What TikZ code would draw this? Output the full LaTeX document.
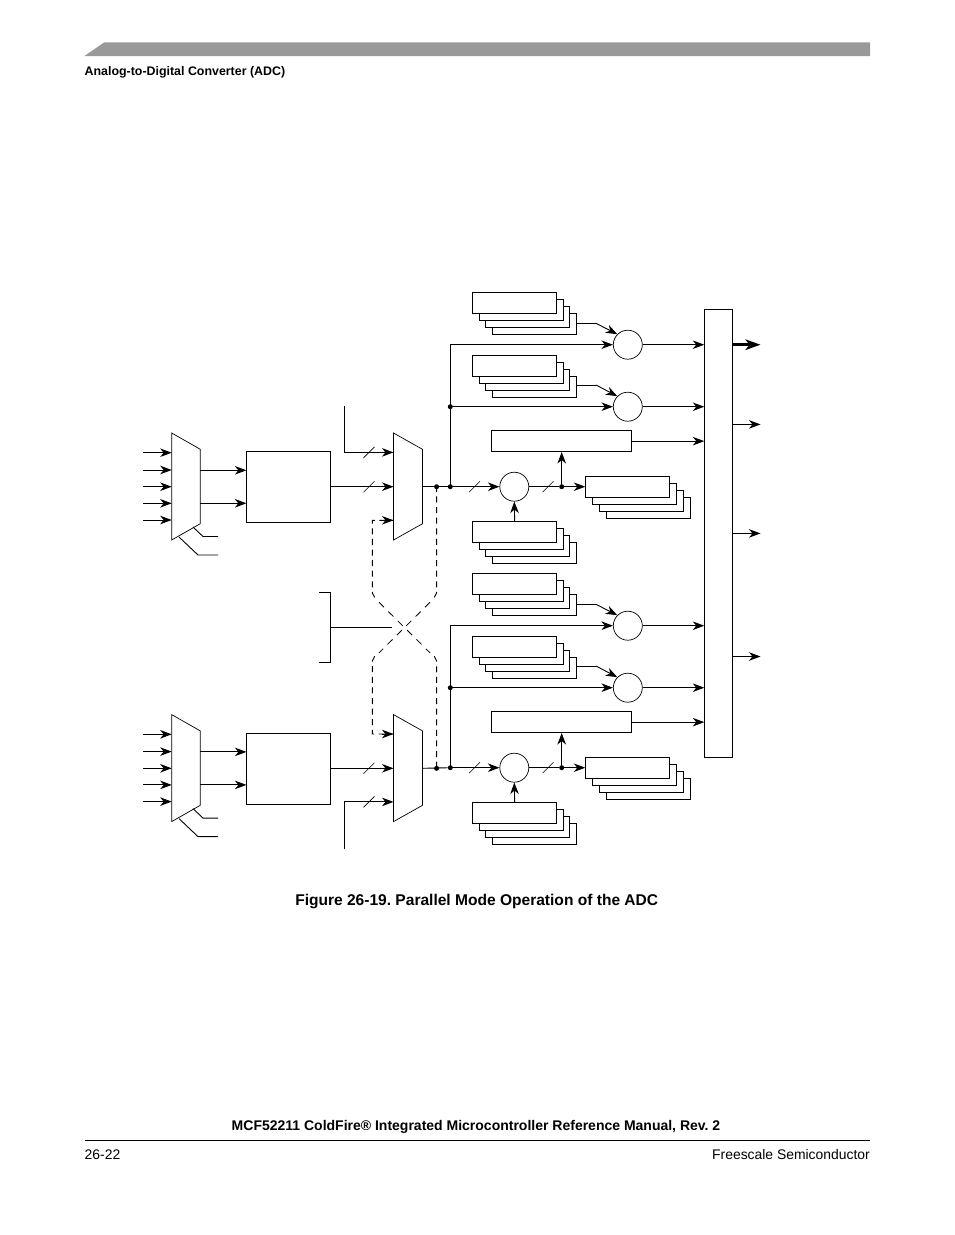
\documentclass[tikz,border=0pt]{standalone}
\usepackage{fontspec}
\setmainfont{Liberation Sans}
\usetikzlibrary{arrows.meta}
\tikzset{
  wire/.style={line width=0.9pt,draw=black},
  arrowwire/.style={wire,-{Stealth[length=11.5pt,width=8.5pt,inset=3.5pt]}},
  thickarrow/.style={line width=2.8pt,draw=black,-{Stealth[length=15pt,width=10.5pt,inset=4pt]}},
  dashwire/.style={wire,dash pattern=on 6pt off 4.6pt},
  crosswire/.style={wire,line width=0.8pt,dash pattern=on 7pt off 6.2pt},
  outline/.style={draw=black,line width=0.9pt,fill=white,rectangle,inner sep=0pt,anchor=north west},
  reg/.style={outline,minimum width=84pt,minimum height=20.8pt},
  adcbox/.style={outline,minimum width=83.7pt,minimum height=71pt},
  wide/.style={outline,minimum width=140pt,minimum height=20.8pt},
  tall/.style={outline,minimum width=27.8pt,minimum height=448pt},
  cmp/.style={draw=black,line width=0.7pt,fill=white,circle,inner sep=0pt,minimum size=29pt},
  mux/.style={draw=black,line width=0.7pt,fill=white},
  junction/.style={fill=black,circle,inner sep=0pt,minimum size=5pt},
  ttl/.style={inner sep=0pt,font=\frenchspacing\bfseries\fontsize{15.55}{18}\selectfont},
  small/.style={inner sep=0pt,font=\bfseries\fontsize{12.4}{14}\selectfont},
  foot/.style={inner sep=0pt,font=\fontsize{13.9}{16}\selectfont},
  footb/.style={inner sep=0pt,font=\frenchspacing\bfseries\fontsize{14}{16}\selectfont},
}
% stack of four registers: #1 prefix, #2 position of the front box's top-left corner
\newcommand{\regstack}[2]{%
  \node[reg,shift={(20.2pt,-20.4pt)}] (#1d) at #2 {};
  \node[reg,shift={(13.2pt,-14pt)}] (#1c) at #2 {};
  \node[reg,shift={(6.4pt,-7pt)}] (#1b) at #2 {};
  \node[reg] (#1a) at #2 {};
}
\newcommand{\slashmark}[1]{\draw[wire,line width=0.6pt] ([shift={(-5.5,5.5)}]#1) -- ([shift={(5.5,-5.5)}]#1);}
% left half: input mux, ADC box, output mux
\newcommand{\muxbank}[2]{%
\begin{scope}[shift={(0,#2)}]
  \path[mux] (171.7,433) -- (200.3,449.3) -- (200.3,523.7) -- (171.7,540) -- cycle;
  \path[mux] (393.5,433) -- (422.5,449.3) -- (422.5,523.7) -- (393.5,540) -- cycle;
  \node[adcbox] (#1box) at (246.4,451.2) {};
  \foreach \n/\y in {1/452.7,2/470,3/486.7,4/503.3,5/520}{
    \coordinate (#1in\n) at (143,\y);
    \coordinate (#1pin\n) at (171.7,\y);
    \draw[arrowwire] (#1in\n) -- (#1pin\n);
  }
  \coordinate (#1outa) at (200.3,470.3);
  \coordinate (#1outb) at (200.3,503.3);
  \draw[arrowwire] (#1outa) -- (#1outa -| #1box.west);
  \draw[arrowwire] (#1outb) -- (#1outb -| #1box.west);
  \coordinate (#1sela) at (193,527);
  \coordinate (#1selaa) at (203,536.5);
  \coordinate (#1selab) at (218,536.5);
  \coordinate (#1selb) at (179,537);
  \coordinate (#1selba) at (198,555);
  \coordinate (#1selbb) at (218,555);
  \draw[wire] (#1sela) -- (#1selaa) -- (#1selab);
  \draw[wire] (#1selb) -- (#1selba) -- (#1selbb);
  \coordinate (#1mid) at (393.5,486.7);
  \coordinate (#1pinu) at (393.5,452.4);
  \coordinate (#1pind) at (393.5,520.3);
  \coordinate (#1slmid) at (369,486.7);
  \draw[arrowwire] (#1box.east |- #1mid) -- (#1mid);
  \slashmark{#1slmid}
  \coordinate (#1muxout) at (422.5,486.7);
  \node[junction] (#1dota) at (436.6,486.7) {};
\end{scope}}
% right half: two comparators, offset block, difference block and registers
\newcommand{\cmpbank}[2]{%
\begin{scope}[shift={(0,#2)}]
  \regstack{#1p}{(472.2,292.3)}
  \regstack{#1q}{(472.2,355.3)}
  \regstack{#1r}{(585.3,476.3)}
  \regstack{#1s}{(472.2,521.3)}
  \node[cmp] (#1ca) at (627.8,344.7) {};
  \node[cmp] (#1cb) at (627.8,406.7) {};
  \node[cmp] (#1cc) at (514.3,486.7) {};
  \node[wide] (#1w) at (491.3,430.3) {};
  \node[junction] (#1dotb) at (450.3,486.7) {};
  \node[junction] (#1dotc) at (450.3,406.7) {};
  \node[junction] (#1dotd) at (561.7,486.7) {};
  \coordinate (#1corner) at (450.3,344.7);
  \coordinate (#1sl1) at (474.5,486.7);
  \coordinate (#1sl2) at (548,486.7);
  \coordinate (#1ka) at (596,323.3);
  \coordinate (#1kb) at (596,385);
  \coordinate (#1ia) at (576.4,323.3);
  \coordinate (#1ib) at (576.4,385);
  \draw[wire] (#1dotb.center) -- (#1corner);
  \draw[arrowwire] (#1corner) -- (#1ca);
  \draw[arrowwire] (#1dotc.center) -- (#1cb);
  \draw[arrowwire] (#1dotb.center) -- (#1cc);
  \draw[wire] (#1cc) -- (#1dotd);
  \draw[arrowwire] (#1dotd.center) -- (#1ra.west |- #1dotd);
  \draw[arrowwire] (#1dotd.center) -- (#1dotd.center |- #1w.south);
  \draw[arrowwire] (#1sa.north) -- (#1cc.south);
  \draw[wire] (#1ia) -- (#1ka);
  \draw[arrowwire] (#1ka) -- (#1ca.north west);
  \draw[wire] (#1ib) -- (#1kb);
  \draw[arrowwire] (#1kb) -- (#1cb.north west);
  \draw[arrowwire] (#1ca) -- (#1ca -| tall.west);
  \draw[arrowwire] (#1cb) -- (#1cb -| tall.west);
  \draw[arrowwire] (#1w.east) -- (#1w.east -| tall.west);
  \slashmark{#1sl1}
  \slashmark{#1sl2}
\end{scope}}
\begin{document}
\begin{tikzpicture}[x=1pt,y=-1pt]
\useasboundingbox (0,0) rectangle (954,1235);
% header
\fill[fill=black!40] (84.5,56) -- (104.3,42.3) -- (870,42.3) -- (870,56) -- cycle;
\node[small,anchor=base west] (head) at (84.5,75) {Analog-to-Digital Converter (ADC)};
% main register column
\node[tall] (tall) at (704.3,309.3) {};
\foreach \n/\y in {b/424.4,c/533.4,d/656.5}{
  \coordinate (o\n) at (760.5,\y);
  \draw[arrowwire] (o\n -| tall.east) -- (o\n);
}
\coordinate (oa) at (760.5,344.7);
\draw[thickarrow] (oa -| tall.east) -- (oa);
% both halves
\muxbank{t}{0}
\muxbank{u}{281.6}
\cmpbank{t}{0}
\cmpbank{u}{281}
% mux outputs
\draw[wire] (tmuxout) -- (tdotb);
\draw[wire] (umuxout) -- (udotb);
% external scan inputs
\coordinate (tfeed) at (344.5,406);
\coordinate (ufeed) at (344.5,849);
\coordinate (tslu) at (369,452.4);
\coordinate (uslu) at (369,801.9);
\draw[arrowwire] (tfeed) |- (tpinu);
\draw[arrowwire] (ufeed) |- (upind);
\slashmark{tslu}
\slashmark{uslu}
% crossover: chamfered verticals and two dashed diagonals
\coordinate (ctlb) at (374.7,597.3);
\coordinate (ctla) at (372.3,593);
\coordinate (ctrb) at (434.3,597.3);
\coordinate (ctra) at (436.6,593);
\coordinate (cblb) at (374.7,656.2);
\coordinate (cbla) at (372.3,661);
\coordinate (cbrb) at (434.3,656.2);
\coordinate (cbra) at (436.6,661);
\coordinate (dtl) at (379,602.3);
\coordinate (dtr) at (430,602.3);
\coordinate (dbl) at (379,652.8);
\coordinate (dbr) at (430,652.8);
\draw[dashwire] (ctrb) -- (ctra) -- (tdota.center);
\draw[dashwire] (ctlb) -- (ctla) |- (tpind);
\draw[dashwire] (cblb) -- (cbla) |- (upinu);
\draw[dashwire] (cbrb) -- (cbra) -- (udota.center);
\draw[crosswire] (dtl) -- (dbr);
\draw[crosswire] (dtr) -- (dbl);
\draw[arrowwire] ([xshift=-12pt]upinu) -- (upinu);
\draw[arrowwire] ([xshift=-12pt]tpind) -- (tpind);
% mode bracket
\coordinate (bra) at (319,592.5);
\coordinate (brb) at (330.5,592.5);
\coordinate (brc) at (330.5,662);
\coordinate (brd) at (319,662);
\coordinate (bre) at (330.5,627.5);
\coordinate (brf) at (391.5,627.5);
\draw[wire] (bra) -- (brb) -- (brc) -- (brd);
\draw[wire] (bre) -- (brf);
% caption and footer
\node[ttl,anchor=base] (cap) at (476.7,905.3) {Figure 26-19. Parallel Mode Operation of the ADC};
\node[footb,anchor=base] (ftitle) at (476,1130) {MCF52211 ColdFire® Integrated Microcontroller Reference Manual, Rev. 2};
\coordinate (rl) at (84.5,1140.5);
\coordinate (rr) at (870,1140.5);
\draw[line width=0.7pt] (rl) -- (rr);
\node[foot,anchor=base west] (fpage) at (84.5,1159) {26-22};
\node[foot,anchor=base east] (fco) at (870,1159) {Freescale Semiconductor};
\end{tikzpicture}
\end{document}
